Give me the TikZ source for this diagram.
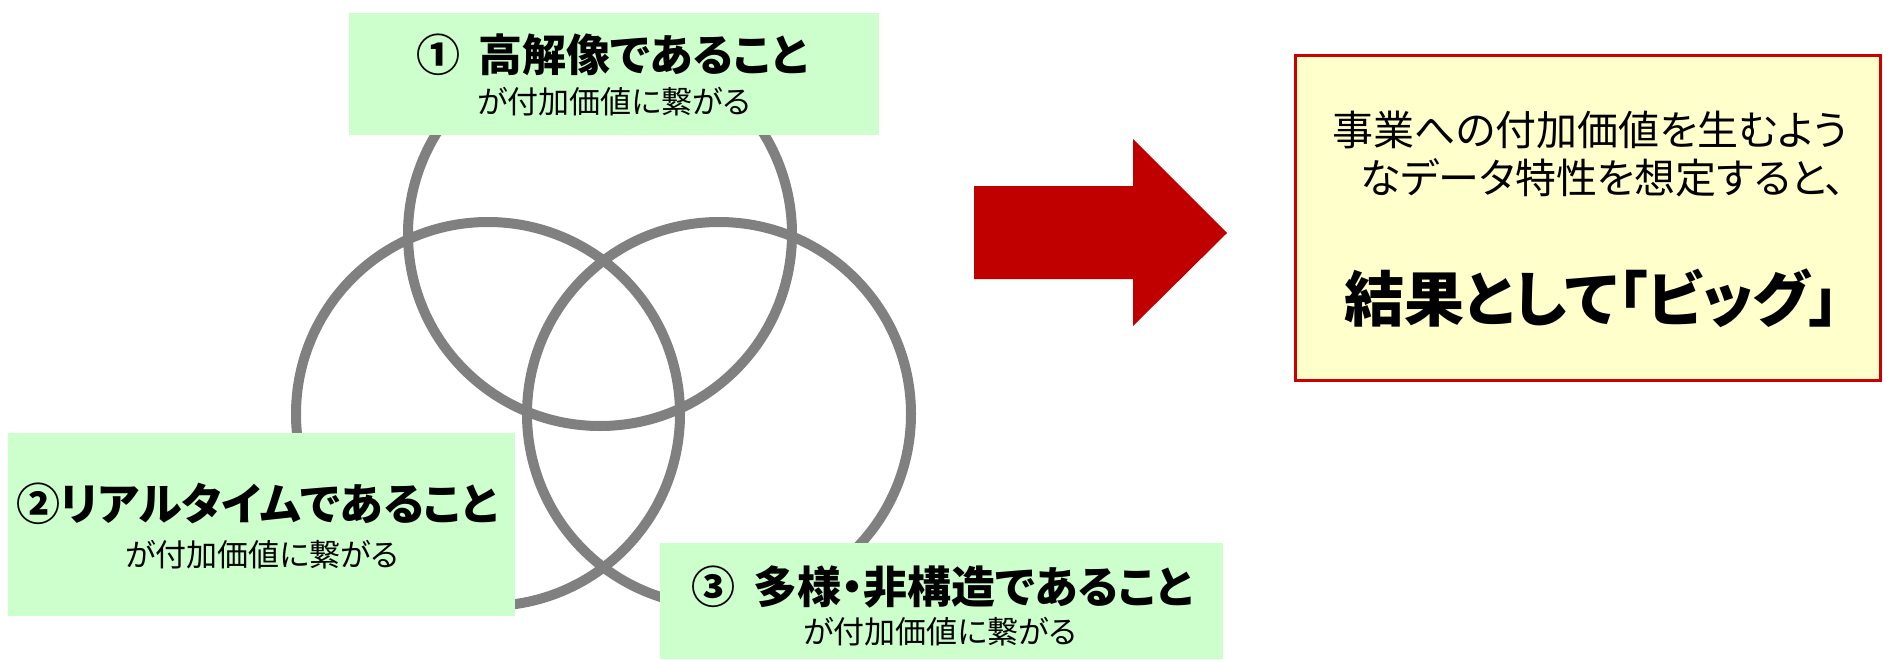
\documentclass[tikz,border=0pt]{standalone}
\usepackage{fontspec}
\newfontfamily\jp[CharacterWidth=AlternateProportional]{Noto Sans CJK JP}
\definecolor{boxgreen}{HTML}{CCFFCC}
\definecolor{boxyellow}{HTML}{FFFFCC}
\definecolor{ringgray}{HTML}{808080}
\definecolor{arrowred}{HTML}{C00000}
\definecolor{borderred}{HTML}{CC0000}
\begin{document}
\begin{tikzpicture}[x=1pt,y=-1pt,
  ring/.style={circle, draw=ringgray, line width=10pt, inner sep=0pt, minimum size=384pt},
  gbox/.style={rectangle, fill=boxgreen, inner sep=0pt},
  title/.style={inner sep=0pt, font=\jp\bfseries\fontsize{44}{50}\selectfont},
  sub/.style={inner sep=0pt, font=\jp\fontsize{31}{36}\selectfont},
  rtext/.style={inner sep=0pt, font=\jp\fontsize{41}{48}\selectfont},
  big/.style={inner sep=0pt, font=\jp\bfseries\fontsize{60}{70}\selectfont}]
\useasboundingbox (0,0) rectangle (1883,659);
% rings
\node[ring] (c1) at (600,234) {};
\node[ring] (c2) at (488,414) {};
\node[ring] (c3) at (719,414) {};
% green boxes
\node[gbox, minimum width=530pt, minimum height=122pt] (b1) at (614,74) {};
\node[gbox, minimum width=507pt, minimum height=183pt] (b2) at (261.5,524.5) {};
\node[gbox, minimum width=563pt, minimum height=116pt] (b3) at (941.5,601) {};
\node[title] (t1) at (612,55) {①\hspace{0.4em}高解像であること};
\node[sub] (s1) at (614,102) {が付加価値に繋がる};
\node[title] (t2) at (257,504) {②リアルタイムであること};
\node[sub] (s2) at (262,555) {が付加価値に繋がる};
\node[title] (t3) at (942,587) {③\hspace{0.4em}多様・非構造であること};
\node[sub] (s3) at (940,632) {が付加価値に繋がる};
% arrow
\fill[arrowred] (974,186) -- (1133,186) -- (1133,139) -- (1227,233) -- (1133,326) -- (1133,279) -- (974,279) -- cycle;
% right box
\node[rectangle, draw=borderred, line width=3pt, fill=boxyellow, minimum width=585pt, minimum height=325pt, inner sep=0pt] (rb) at (1588,217.5) {};
\node[rtext] (r1) at (1590,130) {事業への付加価値を生むよう};
\node[rtext] (r2) at (1603,178) {なデータ特性を想定すると、};
\node[big] (r3) at (1592,298) {結果として「ビッグ」};
\end{tikzpicture}
\end{document}
